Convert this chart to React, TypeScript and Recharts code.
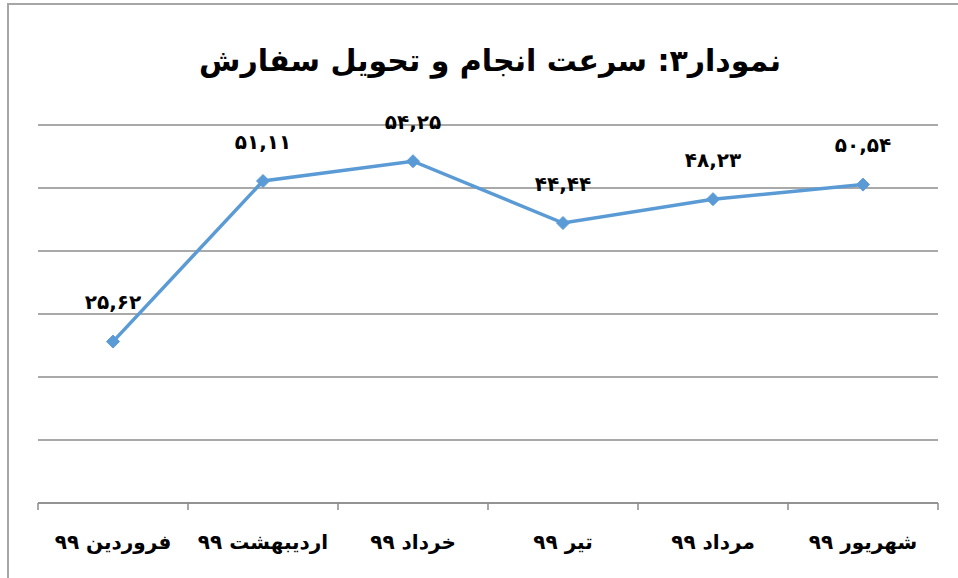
import React from "react";
import { LineChart, Line, XAxis, YAxis, CartesianGrid, LabelList } from "recharts";

const categories = ["فروردین ۹۹", "اردیبهشت ۹۹", "خرداد ۹۹", "تیر ۹۹", "مرداد ۹۹", "شهریور ۹۹"];
const speedValues = [25.62, 51.11, 54.25, 44.44, 48.23, 50.54];
const yTicks = [0, 10, 20, 30, 40, 50, 60];
const title = "نمودار۳: سرعت انجام و تحویل سفارش";

const data = categories.map((name, i) => ({ name, value: speedValues[i] }));

const persianDigits = "۰۱۲۳۴۵۶۷۸۹";
const toPersian = (v: number) =>
  v
    .toFixed(2)
    .replace(".", ",")
    .replace(/[0-9]/g, (d) => persianDigits[Number(d)]);

const FONT = "'DejaVu Sans', sans-serif";
const GRID = "#8c8c8c";
const BLUE = "#5B9BD5";

const Diamond = (props: any) => {
  const { cx, cy } = props;
  if (cx == null || cy == null) return null;
  const r = 6.5;
  return (
    <polygon
      points={`${cx},${cy - r} ${cx + r},${cy} ${cx},${cy + r} ${cx - r},${cy}`}
      fill={BLUE}
      stroke={BLUE}
      strokeWidth={1}
    />
  );
};

const CatTick = (props: any) => {
  const { x, y, payload, index, visibleTicksCount } = props;
  const band = 150;
  const axisY = y - 8;
  return (
    <g>
      <line x1={x - band / 2} y1={axisY} x2={x - band / 2} y2={axisY + 7} stroke={GRID} strokeWidth={1.5} />
      {index === visibleTicksCount - 1 && (
        <line x1={x + band / 2} y1={axisY} x2={x + band / 2} y2={axisY + 7} stroke={GRID} strokeWidth={1.5} />
      )}
      <text
        x={x}
        y={axisY + 40}
        textAnchor="middle"
        dominantBaseline="middle"
        fontFamily={FONT}
        fontWeight="bold"
        fontSize={20}
        fill="#000"
        direction="rtl"
      >
        {payload.value}
      </text>
    </g>
  );
};

const ValueLabel = (props: any) => {
  const { x, y, value } = props;
  return (
    <text
      x={x}
      y={y - 38}
      textAnchor="middle"
      dominantBaseline="middle"
      fontFamily={FONT}
      fontWeight="bold"
      fontSize={20}
      fill="#000"
    >
      {toPersian(value)}
    </text>
  );
};

export default function App() {
  return (
    <div
      style={{
        position: "absolute",
        left: 0,
        top: 0,
        width: 958,
        height: 578,
        overflow: "hidden",
        background: "#fff",
      }}
    >
      <div
        style={{
          position: "absolute",
          left: 7,
          top: 3,
          width: 1000,
          height: 1000,
          borderLeft: "2px solid #a6a6a6",
          borderTop: "2px solid #a6a6a6",
        }}
      />
      <div
        style={{
          position: "absolute",
          left: 0,
          top: 43,
          width: 980,
          textAlign: "center",
          fontFamily: FONT,
          fontWeight: "bold",
          fontSize: 30,
          direction: "rtl",
          color: "#000",
        }}
      >
        {title}
      </div>
      <div style={{ position: "absolute", left: 0, top: 0 }}>
        <LineChart width={958} height={578} data={data} margin={{ top: 125, right: 20, bottom: 0, left: 38 }}>
          <CartesianGrid vertical={false} stroke={GRID} strokeWidth={1.5} />
          <XAxis
            dataKey="name"
            height={75}
            padding={{ left: 75, right: 75 }}
            axisLine={{ stroke: GRID, strokeWidth: 1.5 }}
            tickLine={false}
            tick={<CatTick />}
            interval={0}
          />
          <YAxis hide domain={[0, 60]} ticks={yTicks} />
          <Line
            type="linear"
            dataKey="value"
            stroke={BLUE}
            strokeWidth={3.5}
            dot={<Diamond />}
            activeDot={false}
            isAnimationActive={false}
          >
            <LabelList dataKey="value" content={<ValueLabel />} />
          </Line>
        </LineChart>
      </div>
    </div>
  );
}
